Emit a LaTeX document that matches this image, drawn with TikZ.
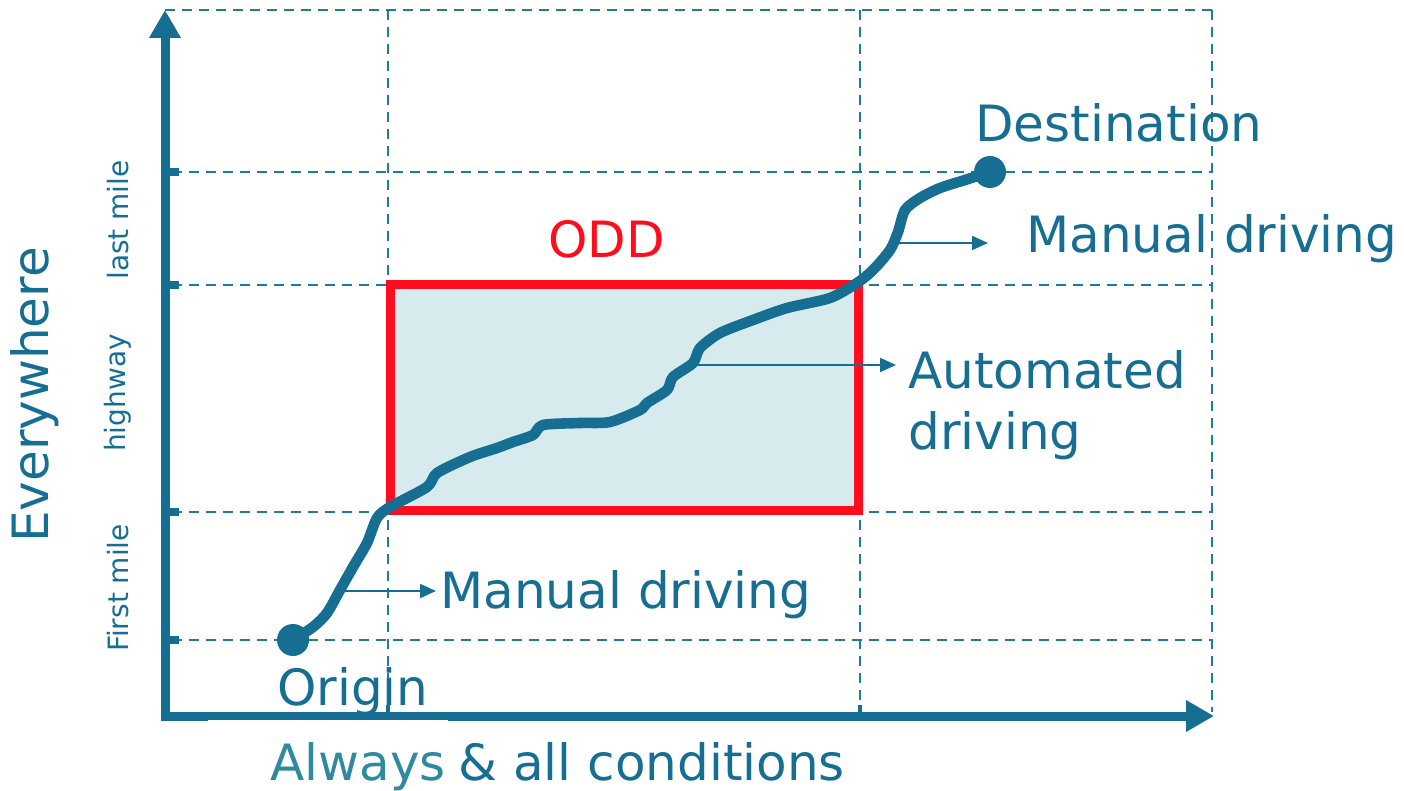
\documentclass[tikz,border=0pt]{standalone}
\usepackage{fontspec}
\setmainfont{DejaVu Sans}
\usetikzlibrary{arrows.meta}
\definecolor{tealA}{RGB}{22,111,147}
\definecolor{tealG}{RGB}{34,122,156}
\definecolor{tealB}{RGB}{46,138,158}
\definecolor{oddred}{RGB}{255,13,30}
\definecolor{oddfill}{RGB}{215,234,238}
\begin{document}
\begin{tikzpicture}[x=0.5pt,y=-0.5pt,
  gridline/.style={tealG, line width=1.4pt, dash pattern=on 5pt off 3.5pt},
  axisline/.style={tealA, line width=4.5pt, -{Triangle[length=14pt,width=15pt]}},
  tickmark/.style={tealA, line width=4pt},
  lbl/.style={text=tealA, font=\fontsize{25}{30}\selectfont, inner sep=0pt, anchor=base west},
  sidelbl/.style={text=tealA, font=\fontsize{14}{16}\selectfont, rotate=90, inner sep=0pt},
  pointer/.style={tealA, line width=1pt, -{Triangle[length=8pt,width=7pt]}},
  route/.style={tealA, line width=5.3pt, line cap=round, line join=round},
  dot/.style={circle, fill=tealA, minimum size=16pt, inner sep=0pt}]
\useasboundingbox (0,0) rectangle (1404,791);

% grid
\draw[gridline] (165,10) -- (1212,10);
\foreach \yy in {172,285,512,640} \draw[gridline] (172,\yy) -- (1212,\yy);
\foreach \xx in {388,860,1212} \draw[gridline] (\xx,10) -- (\xx,712);

% ODD box
\draw[oddred, line width=4.5pt, fill=oddfill] (390,285) rectangle (858,510);
\node[lbl, text=oddred] (odd) at (548,258) {ODD};

% axes
\draw[axisline] (165,721) -- (165,10);
\draw[axisline] (161,716) -- (1214,716);
\foreach \yy in {172,285,512,640} \draw[tickmark] (165,\yy) -- (179,\yy);
\draw[tealA, line width=2pt] (388,716) -- (388,705);
\draw[tealA, line width=2pt] (860,716) -- (860,705);
\fill[white] (208,720) rectangle (448,791);

% route
\draw[route] plot[smooth, tension=0.45] coordinates {
 (293,640) (313,627) (327,613) (340,590) (353,567) (367,543) (377,518) (390,507)
 (427,487) (437,473) (470,457) (497,448) (513,442) (533,435) (543,425) (580,423)
 (610,422) (640,410) (647,403) (667,390) (673,377) (693,363) (700,348) (720,333)
 (753,320) (787,308) (830,298) (857,283) (873,270) (890,250) (898,232) (905,210)
 (920,198) (940,188) (965,180) (990,172)};
\node[dot] (origin) at (293,640) {};
\node[dot] (dest) at (990,172) {};

% labels
\node[lbl] (originlbl) at (277,705) {Origin};
\node[lbl] (destlbl) at (975,142) {Destination};
\node[lbl] (man2) at (1026,253) {Manual driving};
\node[lbl] (auto1) at (908,388) {Automated};
\node[lbl] (auto2) at (908,450) {driving};
\node[lbl] (man1) at (440,608) {Manual driving};
\node[lbl, text=tealB] (always) at (270,780) {Always};
\node[lbl] (cond) at (458,780) {\& all conditions};
\node[sidelbl, font=\fontsize{25}{30}\selectfont] (every) at (35,395) {Everywhere};
\node[sidelbl] (last) at (118,220) {last mile};
\node[sidelbl] (hwy) at (118,393) {highway};
\node[sidelbl] (first) at (118,588) {First mile};

% pointers
\coordinate (p1s) at (340,591); \coordinate (p1e) at (436,591);
\coordinate (p2s) at (692,365); \coordinate (p2e) at (896,365);
\coordinate (p3s) at (898,243); \coordinate (p3e) at (988,243);
\draw[pointer] (p1s) -- (p1e);
\draw[pointer] (p2s) -- (p2e);
\draw[pointer] (p3s) -- (p3e);
\end{tikzpicture}
\end{document}
